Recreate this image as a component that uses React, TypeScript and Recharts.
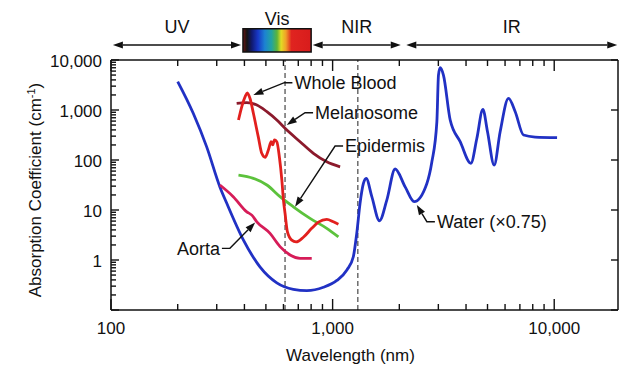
import React from "react";
import {
  LineChart,
  Line,
  XAxis,
  YAxis,
  ReferenceLine,
  ReferenceArea,
} from "recharts";

const FONT = '"Liberation Sans", Arial, Helvetica, sans-serif';
const INK = "#111";

// water (scaled x0.75)
const waterNm = [200, 235, 270, 310, 333, 396, 470, 560, 665, 765, 909, 1045, 1160, 1240, 1285, 1330, 1377, 1417, 1503, 1627, 1756, 1915, 2125, 2334, 2663, 2805, 2954, 3004, 3057, 3163, 3393, 3764, 4207, 4477, 4764, 5000, 5358, 5702, 6219, 6668, 7268, 8200, 10300];
const waterAbs = [3700, 860, 185, 29, 13.6, 2.5, 0.73, 0.35, 0.26, 0.245, 0.285, 0.39, 0.63, 1.16, 3.4, 13.6, 34, 43, 18.5, 6.1, 15.8, 66, 29, 14.7, 34, 92, 580, 5000, 7000, 5000, 630, 232, 86, 272, 1030, 368, 79, 368, 1710, 925, 316, 288, 280];

const bloodNm = [376, 389, 403, 412, 424, 439, 462, 479, 496, 513, 528, 537, 546, 560, 575, 590, 600, 610, 625, 654, 684, 738, 805, 863, 941, 1008, 1062];
const bloodAbs = [630, 1160, 1850, 2200, 1700, 860, 290, 136, 113, 158, 232, 200, 251, 232, 116, 40, 15.8, 8.6, 3.7, 2.5, 2.3, 2.85, 4.3, 5.7, 6.5, 5.8, 5.2];

const melanoNm = [369, 410, 455, 505, 560, 610, 713, 819, 941, 1081];
const melanoAbs = [1360, 1400, 1260, 925, 630, 430, 232, 136, 92, 73];

const epidermisNm = [376, 439, 505, 579, 665, 791, 941, 1062];
const epidermisAbs = [50, 43, 31.6, 18.5, 11.6, 6.8, 4.3, 2.9];

const aortaNm = [310, 356, 410, 432, 455, 522, 579, 643, 713, 805];
const aortaAbs = [31.6, 18.5, 9.2, 7.9, 5.8, 3.4, 1.85, 1.26, 1.08, 1.08];

// axis ticks
const xMajor = [100, 1000, 10000];
const xTicks = [100, 200, 300, 400, 500, 600, 700, 800, 900, 1000, 2000, 3000, 4000, 5000, 6000, 7000, 8000, 9000, 10000];
const yMajor = [0.1, 1, 10, 100, 1000, 10000];
const yLabelled = [1, 10, 100, 1000, 10000];
const yTicks = [0.1, 0.2, 0.3, 0.4, 0.5, 0.6, 0.7, 0.8, 0.9, 1, 2, 3, 4, 5, 6, 7, 8, 9, 10, 20, 30, 40, 50, 60, 70, 80, 90, 100, 200, 300, 400, 500, 600, 700, 800, 900, 1000, 2000, 3000, 4000, 5000, 6000, 7000, 8000, 9000, 10000];

// spectral bands across the top: [from nm, to nm]
const bandY = 20000;
const uvBand = [102, 386];
const nirBand = [813, 2030];
const irBand = [2150, 19250];
const visBand = [394, 800];

// callouts: text, elbow (nm, abs), arrow tip (nm, abs), side of text
const callouts = [
  { text: "Whole Blood", elbow: [606, 3516], tip: [439, 1995], side: 1 },
  { text: "Melanosome", elbow: [751, 883], tip: [621, 501], side: 1 },
  { text: "Epidermis", elbow: [1026, 190], tip: [677, 11.6], side: 1 },
  { text: "Aorta", elbow: [344, 1.71], tip: [447, 5.6], side: -1 },
  { text: "Water (\u00d70.75)", elbow: [2663, 5.83], tip: [2399, 12.6], side: 1 },
];

const zip = (nm: number[], abs: number[]) => nm.map((w, i) => ({ nm: w, abs: abs[i] }));

const series = [
  { name: "Water", data: zip(waterNm, waterAbs), color: "#2131c4" },
  { name: "Aorta", data: zip(aortaNm, aortaAbs), color: "#d61c58" },
  { name: "Epidermis", data: zip(epidermisNm, epidermisAbs), color: "#5cc23c" },
  { name: "Melanosome", data: zip(melanoNm, melanoAbs), color: "#8c1a2c" },
  { name: "Whole Blood", data: zip(bloodNm, bloodAbs), color: "#e2201e" },
];

const fmt = (v: number) => v.toLocaleString("en-US");

const TICK_W = 1.4;

const BottomTick = ({ x, y, payload }: any) => {
  const major = xMajor.includes(payload.value);
  return (
    <g>
      <line x1={x} x2={x} y1={y} y2={y - (major ? 11 : 6)} stroke={INK} strokeWidth={TICK_W} />
      {major && (
        <text x={x} y={y + 24} textAnchor="middle" fontSize={17} fill={INK} fontFamily={FONT}>
          {fmt(payload.value)}
        </text>
      )}
    </g>
  );
};

const TopTick = ({ x, y, payload }: any) => {
  const major = xMajor.includes(payload.value);
  return (
    <g>
      <line x1={x} x2={x} y1={y} y2={y + (major ? 11 : 6)} stroke={INK} strokeWidth={TICK_W} />
    </g>
  );
};

const LeftTick = ({ x, y, payload }: any) => {
  const major = yMajor.includes(payload.value);
  return (
    <g>
      <line x1={x} x2={x + (major ? 8 : 5)} y1={y} y2={y} stroke={INK} strokeWidth={TICK_W} />
      {yLabelled.includes(payload.value) && (
        <text x={x - 9} y={y + 7} textAnchor="end" fontSize={17} fill={INK} fontFamily={FONT}>
          {fmt(payload.value)}
        </text>
      )}
    </g>
  );
};

const RightTick = ({ x, y, payload }: any) => (
  <g>
    {yMajor.includes(payload.value) && (
      <line x1={x} x2={x - 7} y1={y} y2={y} stroke={INK} strokeWidth={TICK_W} />
    )}
  </g>
);

const YTitle = ({ viewBox }: any) => {
  const cx = viewBox.x - 16;
  const cy = viewBox.y + viewBox.height / 2 + 5;
  return (
    <text
      x={cx}
      y={cy}
      transform={`rotate(-90 ${cx} ${cy})`}
      textAnchor="middle"
      fontSize={17}
      fill={INK}
      fontFamily={FONT}
      dy="0.35em"
    >
      Absorption Coefficient (cm
      <tspan dy={-6} fontSize={11}>-1</tspan>
      <tspan dy={6}>)</tspan>
    </text>
  );
};

const XTitle = ({ viewBox }: any) => (
  <text
    x={viewBox.x + viewBox.width / 2 - 14}
    y={viewBox.y + 51}
    textAnchor="middle"
    fontSize={17}
    fill={INK}
    fontFamily={FONT}
  >
    Wavelength (nm)
  </text>
);

// double-headed band arrow with its name above
const bandArrow = (label: string) => (p: any) => {
  const { x1, y1, x2, y2 } = p;
  const h = 10;
  const w = 3.5;
  return (
    <g>
      <line x1={x1 + h} y1={y1} x2={x2 - h} y2={y2} stroke={INK} strokeWidth={1.5} />
      <polygon points={`${x1},${y1} ${x1 + h},${y1 - w} ${x1 + h},${y1 + w}`} fill={INK} />
      <polygon points={`${x2},${y2} ${x2 - h},${y2 - w} ${x2 - h},${y2 + w}`} fill={INK} />
      <text x={(x1 + x2) / 2} y={y1 - 12} textAnchor="middle" fontSize={18} fill={INK} fontFamily={FONT}>
        {label}
      </text>
    </g>
  );
};

// label with a short stub, then a leader line ending in an arrowhead
const leader = (text: string, side: number) => (p: any) => {
  const { x1, y1, x2, y2 } = p;
  const dx = x2 - x1;
  const dy = y2 - y1;
  const len = Math.hypot(dx, dy) || 1;
  const ux = dx / len;
  const uy = dy / len;
  const h = 10;
  const w = 3.5;
  const bx = x2 - ux * h;
  const by = y2 - uy * h;
  const stub = x1 + side * 8;
  return (
    <g>
      <polyline
        points={`${stub},${y1} ${x1},${y1} ${bx},${by}`}
        fill="none"
        stroke={INK}
        strokeWidth={1.4}
      />
      <polygon
        points={`${x2},${y2} ${bx - uy * w},${by + ux * w} ${bx + uy * w},${by - ux * w}`}
        fill={INK}
      />
      <text
        x={stub + side * 2}
        y={y1}
        dy="0.35em"
        textAnchor={side > 0 ? "start" : "end"}
        fontSize={18}
        fill={INK}
        fontFamily={FONT}
      >
        {text}
      </text>
    </g>
  );
};

// top and right axes need a nonzero size or they are not drawn
const AbsorptionChart: React.FC = () => (
  <LineChart
    width={619}
    height={381}
    margin={{ top: 59, right: 0, bottom: 41, left: 51 }}
    style={{ fontFamily: FONT, background: "#fff" }}
  >
    <defs>
      <linearGradient id="visGrad" x1="0" y1="0" x2="1" y2="0">
        <stop offset="0" stopColor="#6a1414" />
        <stop offset="0.06" stopColor="#151515" />
        <stop offset="0.13" stopColor="#101a70" />
        <stop offset="0.22" stopColor="#1838c8" />
        <stop offset="0.32" stopColor="#1c82d2" />
        <stop offset="0.42" stopColor="#22a4a0" />
        <stop offset="0.5" stopColor="#5cb43a" />
        <stop offset="0.56" stopColor="#e2dc24" />
        <stop offset="0.63" stopColor="#f0a028" />
        <stop offset="0.71" stopColor="#e02420" />
        <stop offset="1" stopColor="#d81c1c" />
      </linearGradient>
    </defs>
    <XAxis
      dataKey="nm"
      type="number"
      scale="log"
      domain={[100, 19400]}
      allowDataOverflow
      ticks={xTicks}
      interval={0}
      tickSize={0}
      tickMargin={0}
      tickLine={false}
      tick={BottomTick}
      axisLine={{ stroke: INK, strokeWidth: 1.5 }}
      label={XTitle}
    />
    <XAxis
      xAxisId="top"
      orientation="top"
      dataKey="nm"
      type="number"
      scale="log"
      domain={[100, 19400]}
      allowDataOverflow
      height={1}
      ticks={xTicks}
      interval={0}
      tickSize={0}
      tickMargin={0}
      tickLine={false}
      tick={TopTick}
      axisLine={{ stroke: INK, strokeWidth: 1.5 }}
    />
    <YAxis
      type="number"
      scale="log"
      domain={[0.1, 10000]}
      allowDataOverflow
      width={60}
      ticks={yTicks}
      interval={0}
      tickSize={0}
      tickMargin={0}
      tickLine={false}
      tick={LeftTick}
      axisLine={{ stroke: INK, strokeWidth: 1.5 }}
      label={YTitle}
    />
    <YAxis
      yAxisId="right"
      orientation="right"
      type="number"
      scale="log"
      domain={[0.1, 10000]}
      allowDataOverflow
      width={1}
      ticks={yTicks}
      interval={0}
      tickSize={0}
      tickMargin={0}
      tickLine={false}
      tick={RightTick}
      axisLine={{ stroke: INK, strokeWidth: 1.5 }}
    />

    <ReferenceLine x={610} stroke="#222" strokeWidth={1} strokeDasharray="5 3" />
    <ReferenceLine x={1300} stroke="#222" strokeWidth={1} strokeDasharray="5 3" />

    {series.map((s) => (
      <Line
        key={s.name}
        name={s.name}
        data={s.data}
        dataKey="abs"
        type="monotone"
        stroke={s.color}
        strokeWidth={2.8}
        dot={false}
        activeDot={false}
        isAnimationActive={false}
      />
    ))}

    <ReferenceLine
      ifOverflow="visible"
      segment={[{ x: uvBand[0], y: bandY }, { x: uvBand[1], y: bandY }]}
      shape={bandArrow("UV")}
    />
    <ReferenceLine
      ifOverflow="visible"
      segment={[{ x: nirBand[0], y: bandY }, { x: nirBand[1], y: bandY }]}
      shape={bandArrow("NIR")}
    />
    <ReferenceLine
      ifOverflow="visible"
      segment={[{ x: irBand[0], y: bandY }, { x: irBand[1], y: bandY }]}
      shape={bandArrow("IR")}
    />
    <ReferenceArea
      ifOverflow="visible"
      x1={visBand[0]}
      x2={visBand[1]}
      y1={14500}
      y2={42000}
      fill="url(#visGrad)"
      fillOpacity={1}
      stroke={INK}
      strokeWidth={1.5}
      label={{ value: "Vis", position: "top", offset: 4, fill: INK, fontSize: 18 }}
    />

    {callouts.map((c) => (
      <ReferenceLine
        key={c.text}
        ifOverflow="visible"
        segment={[
          { x: c.elbow[0], y: c.elbow[1] },
          { x: c.tip[0], y: c.tip[1] },
        ]}
        shape={leader(c.text, c.side)}
      />
    ))}
  </LineChart>
);

export default function App() {
  return (
    <div style={{ position: "absolute", left: 0, top: 0, width: 619, height: 381, background: "#fff" }}>
      <AbsorptionChart />
    </div>
  );
}
